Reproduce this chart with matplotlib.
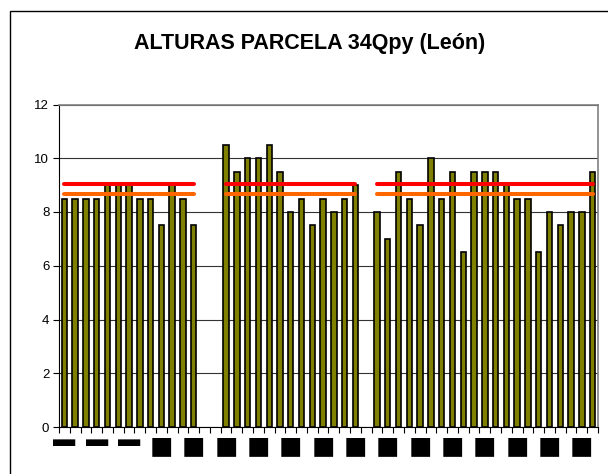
import numpy as np
import matplotlib
matplotlib.use('Agg')
import matplotlib.pyplot as plt
from matplotlib.patches import Rectangle

plt.rcParams['font.family'] = ['Liberation Sans', 'DejaVu Sans']

# alturas por grupo (huecos entre grupos)
grupo1 = [8.5, 8.5, 8.5, 8.5, 9, 9, 9, 8.5, 8.5, 7.5, 9, 8.5, 7.5]
grupo2 = [10.5, 9.5, 10, 10, 10.5, 9.5, 8, 8.5, 7.5, 8.5, 8, 8.5, 9]
grupo3 = [8, 7, 9.5, 8.5, 7.5, 10, 8.5, 9.5, 6.5, 9.5, 9.5, 9.5, 9,
          8.5, 8.5, 6.5, 8, 7.5, 8, 8, 9.5]
hueco1 = 2
hueco2 = 1
nivel_rojo = 9.05
nivel_naranja = 8.67
etiquetas = ['▬', '▬', '▬'] + ['■'] * 14

# construir la serie completa con huecos
alturas = grupo1 + [np.nan] * hueco1 + grupo2 + [np.nan] * hueco2 + grupo3
alturas = np.array(alturas, dtype=float)
n = len(alturas)
x = np.arange(n)
hay = ~np.isnan(alturas)

rojo = np.full(n, np.nan)
naranja = np.full(n, np.nan)
ini = 0
for g, h in [(grupo1, hueco1), (grupo2, hueco2), (grupo3, 0)]:
    rojo[ini:ini + len(g)] = nivel_rojo
    naranja[ini:ini + len(g)] = nivel_naranja
    ini += len(g) + h

fig = plt.figure(figsize=(6.08, 4.74), dpi=100)
ax = fig.add_axes([59 / 608, 1 - 427 / 474, (598 - 59) / 608, (427 - 104.5) / 474])

ax.bar(x[hay], alturas[hay], width=0.5, color='#808000', edgecolor='black',
       linewidth=1.2, zorder=3)
ax.plot(x, naranja, color='#FF6600', linewidth=2.9, solid_capstyle='round', zorder=4)
ax.plot(x, rojo, color='#FF0000', linewidth=2.9, solid_capstyle='round', zorder=4)

ax.set_xlim(-0.5, n - 0.5)
ax.set_ylim(0, 12)
ax.set_yticks(np.arange(0, 13, 2))
ax.yaxis.grid(True, color='#333333', linewidth=0.8, zorder=0)
ax.tick_params(axis='y', direction='out', length=4, width=0.8, labelsize=9.5, pad=3)

ax.set_xticks(np.arange(0, n, 3))
ax.set_xticklabels(etiquetas)
for i, t in enumerate(ax.get_xticklabels()):
    if etiquetas[i] == '▬':
        t.set_fontsize(16)
    else:
        t.set_fontsize(28)
ax.set_xticks(np.arange(-0.5, n, 1), minor=True)
ax.tick_params(axis='x', which='major', length=0, pad=2)
ax.tick_params(axis='x', which='minor', direction='out', length=4, width=0.8)

for s in ['top', 'right']:
    ax.spines[s].set_color('#808080')
    ax.spines[s].set_linewidth(1.2)
ax.spines['left'].set_color('black')
ax.spines['bottom'].set_color('black')

fig.text(310 / 608, 1 - 44 / 474, 'ALTURAS PARCELA 34Qpy (León)', ha='center', va='center',
         fontsize=15.5, fontweight='bold')

# borde exterior del gráfico
fig.patches.append(Rectangle((10 / 608, -0.1), 1.0, 1 - 11 / 474 + 0.1, transform=fig.transFigure,
                             fill=False, edgecolor='black', linewidth=1.0))

fig.savefig('out.png', dpi=100)
